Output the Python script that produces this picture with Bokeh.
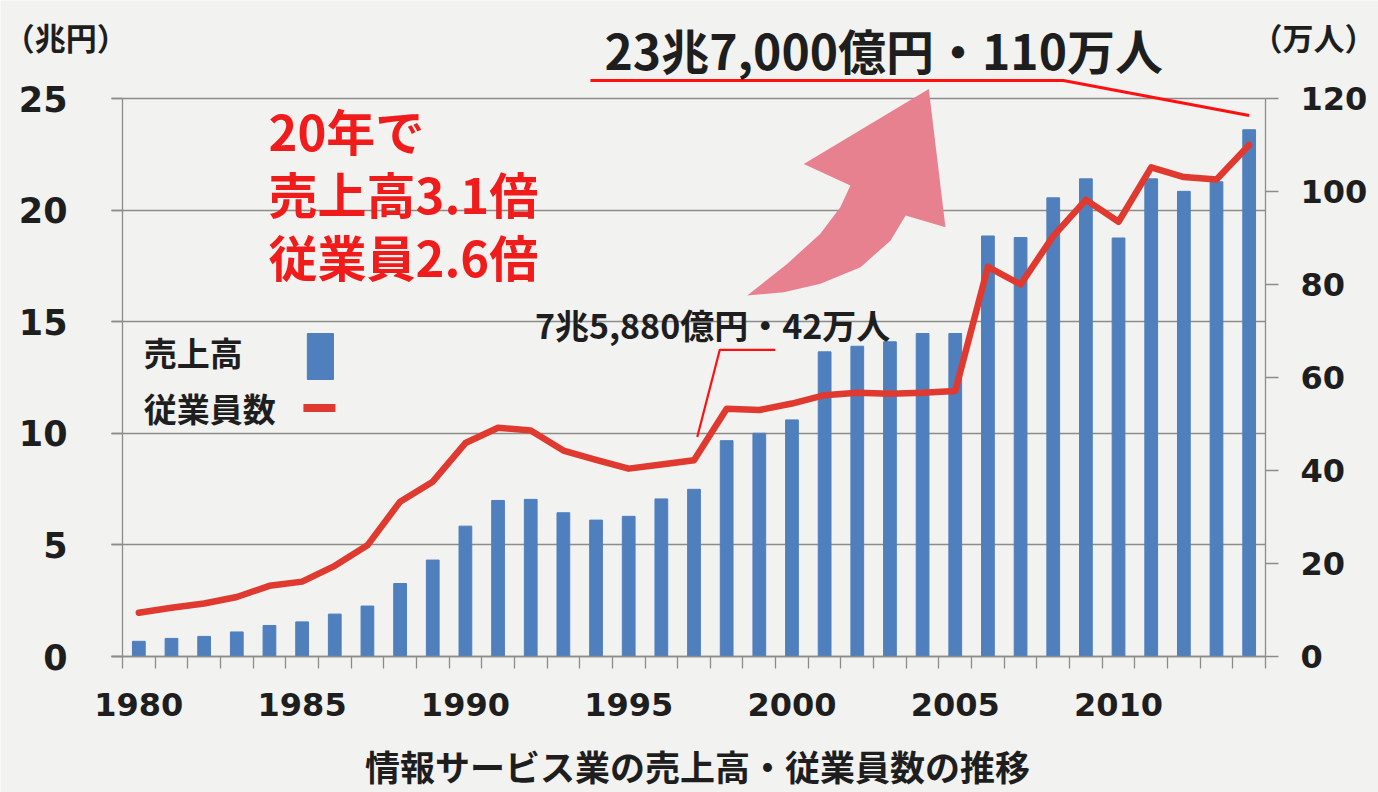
from bokeh.plotting import figure
from bokeh.models import Range1d, LinearAxis, FixedTicker, Label
from bokeh.embed import file_html
from bokeh.resources import INLINE

# ---- data ----
years = list(range(1980, 2015))
sales = [0.68, 0.81, 0.90, 1.10, 1.39, 1.55, 1.90, 2.26, 3.27, 4.32,
         5.84, 6.99, 7.04, 6.44, 6.11, 6.28, 7.06, 7.49, 9.67, 10.0,
         10.6, 13.65, 13.9, 14.1, 14.47, 14.47, 18.84, 18.77, 20.55, 21.4,
         18.75, 21.4, 20.84, 21.27, 23.6]
employees = [9.4, 10.5, 11.4, 12.8, 15.2, 16.1, 19.5, 23.9, 33.3, 37.6,
             45.9, 49.2, 48.6, 44.3, 42.3, 40.4, 41.3, 42.2, 53.3, 53.0,
             54.4, 56.2, 56.7, 56.5, 56.7, 57.1, 83.8, 80.0, 90.4, 98.2,
             93.5, 105.2, 103.1, 102.6, 110.0]
year_labels = [1980, 1985, 1990, 1995, 2000, 2005, 2010]
left_ticks = [0, 5, 10, 15, 20, 25]
right_ticks = [0, 20, 40, 60, 80, 100, 120]

BG = "#f2f2f0"
GRID = "#8c8c8c"
BLUE = "#4f7fbd"
RED_LINE = "#e03a30"
RED_TXT = "#f01c1c"
TXT = "#1e1e1e"
JP = "Noto Sans CJK JP"
NUM = "DejaVu Sans"

# geometry (pixels): the frame covers the whole canvas; the chart area proper
# is delimited by the axes' bounds.
W, H = 1378, 792
PL, PR, PT, PB = 122, 1265, 98, 656
X0, X1 = 1979.5, 2014.5
Y1L, Y1R = 25.0, 120.0
xs = (PR - PL) / (X1 - X0)
ysl = (PB - PT) / Y1L
ysr = (PB - PT) / Y1R

p = figure(width=W, height=H, output_backend="svg", toolbar_location=None,
           x_range=Range1d(X0 - PL / xs, X1 + (W - PR) / xs),
           y_range=Range1d(-(H - PB) / ysl, Y1L + PT / ysl),
           min_border=0, min_border_left=0, min_border_right=0, min_border_top=0,
           min_border_bottom=0,
           background_fill_color=BG, border_fill_color=BG, outline_line_color=None)
p.extra_y_ranges = {"emp": Range1d(-(H - PB) / ysr, Y1R + PT / ysr)}
p.yaxis.visible = False

# grid
p.xgrid.visible = False
p.ygrid.ticker = FixedTicker(ticks=left_ticks)
p.ygrid.grid_line_color = GRID
p.ygrid.grid_line_width = 1.3
try:
    p.ygrid.cross_bounds = (X0 - 11 / xs, X1)
except Exception:
    pass

# bars and line
p.vbar(x=years, top=sales, width=0.39, color=BLUE)
p.line(x=years, y=employees, y_range_name="emp", line_color=RED_LINE, line_width=6.5,
       line_join="round", line_cap="round")

# left axis
ya = LinearAxis(ticker=FixedTicker(ticks=left_ticks), fixed_location=X0, bounds=(0, Y1L))
ya.axis_line_color = GRID
ya.axis_line_width = 1.3
ya.major_tick_line_color = GRID
ya.major_tick_line_width = 1.3
ya.major_tick_out = 11
ya.major_tick_in = 0
ya.minor_tick_line_color = None
ya.major_label_standoff = 44
ya.major_label_text_font = NUM
ya.major_label_text_font_style = "bold"
ya.major_label_text_font_size = "35px"
ya.major_label_text_color = TXT
p.add_layout(ya, "left")

# right axis
ra = LinearAxis(y_range_name="emp", ticker=FixedTicker(ticks=right_ticks), fixed_location=X1,
                bounds=(0, Y1R))
ra.axis_line_color = GRID
ra.axis_line_width = 1.3
ra.major_tick_line_color = GRID
ra.major_tick_line_width = 1.3
ra.major_tick_out = 13
ra.major_tick_in = 0
ra.minor_tick_line_color = None
ra.major_label_standoff = 22
ra.major_label_text_font = NUM
ra.major_label_text_font_style = "bold"
ra.major_label_text_font_size = "32px"
ra.major_label_text_color = TXT
p.add_layout(ra, "right")

# bottom axis
xa = p.xaxis[0]
xa.fixed_location = 0
xa.bounds = (X0 - 11 / xs, X1)
xa.ticker = FixedTicker(ticks=year_labels, minor_ticks=[y - 0.5 for y in years] + [years[-1] + 0.5])
xa.axis_line_color = GRID
xa.axis_line_width = 1.3
xa.major_tick_out = 0
xa.major_tick_in = 0
xa.minor_tick_out = 12
xa.minor_tick_in = 0
xa.minor_tick_line_color = GRID
xa.minor_tick_line_width = 1.3
xa.major_label_standoff = 24
xa.major_label_text_font = NUM
xa.major_label_text_font_style = "bold"
xa.major_label_text_font_size = "32px"
xa.major_label_text_color = TXT

# ---- decorations / annotations ----
arrow_xs = [1998.63, 1999.85, 2000.87, 2001.48, 2001.79, 2000.36, 2004.19, 2004.70,
            2003.48, 2003.02, 2002.10, 2000.87, 1999.75]
arrow_ys = [16.17, 17.59, 18.94, 20.13, 21.10, 22.07, 25.43, 19.23,
            19.76, 18.64, 17.44, 16.70, 16.32]
p.patch(x=arrow_xs, y=arrow_ys, fill_color="#e8818f", line_color=None)

p.line(x=[1993.83, 2008.31, 2014.0], y=[25.81, 25.81, 24.24], line_color="#ff1010", line_width=3)
p.line(x=[1997.10, 1997.79, 1999.49], y=[9.83, 13.74, 13.74], line_color="#ff1010", line_width=2.2)

def lab(x, y, text, size, color=TXT, align="center", font=JP):
    p.add_layout(Label(x=x, y=y, text=text, text_font=font, text_font_size=size,
                       text_font_style="bold", text_color=color,
                       text_align=align, text_baseline="middle"))

lab(2002.81, 27.24, "23兆7,000億円・110万人", "48px")
lab(1997.57, 14.88, "7兆5,880億円・42万人", "34px")
lab(1983.97, 23.61, "20年で", "49px", RED_TXT, "left")
lab(1983.97, 20.79, "売上高3.1倍", "49px", RED_TXT, "left")
lab(1983.97, 17.97, "従業員2.6倍", "49px", RED_TXT, "left")
lab(1977.76, 27.78, "（兆円）", "31px")
lab(X0 + (1375 - PL) / xs, 27.78, "（万人）", "31px", align="right")
lab(1997.11, (PB - 765) / ysl, "情報サービス業の売上高・従業員数の推移", "35px")

# manual legend
lab(1980.15, 13.66, "売上高", "33px", align="left")
lab(1980.15, 11.12, "従業員数", "33px", align="left")
p.quad(left=[1985.16], right=[1985.96], bottom=[12.41], top=[14.47], color=BLUE)
p.line(x=[1985.04, 1986.02], y=[11.13, 11.13], line_color=RED_LINE, line_width=8)

open("out.html", "w").write(file_html(p, INLINE))
